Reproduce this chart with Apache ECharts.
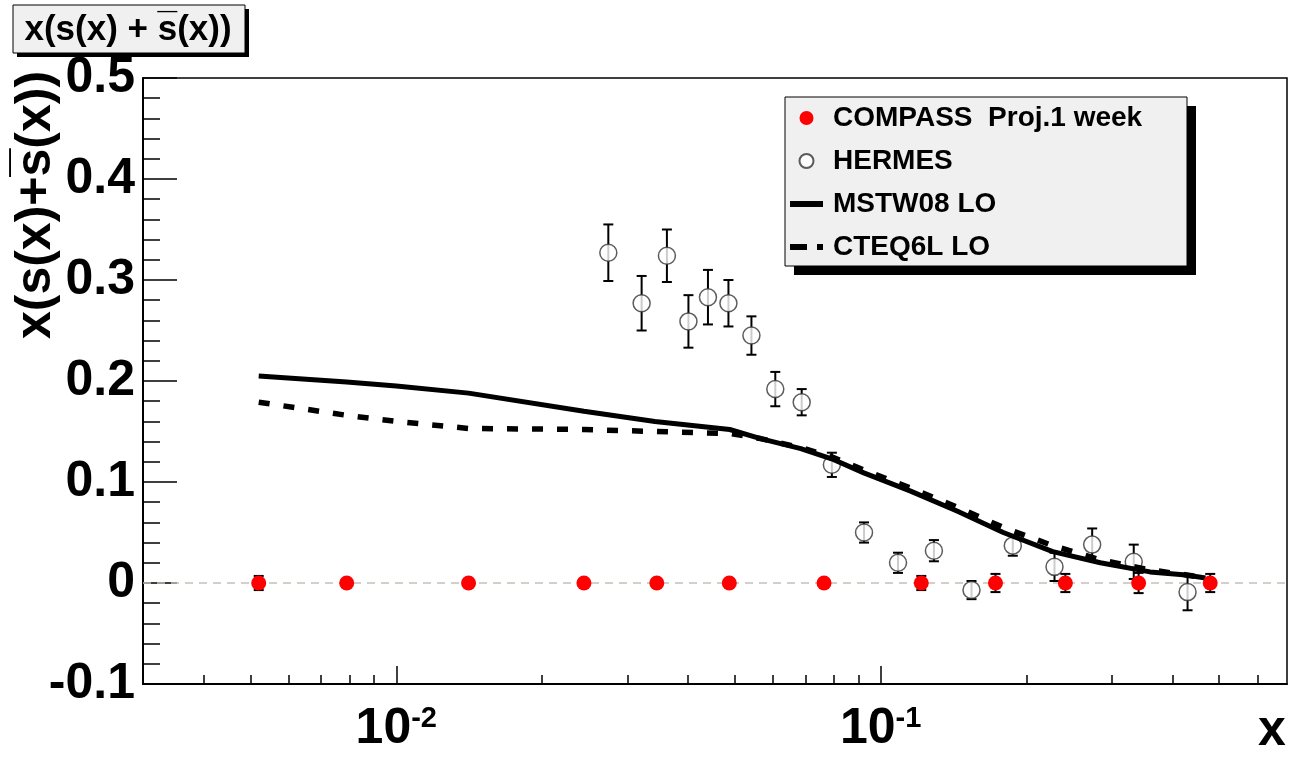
<!DOCTYPE html>
<html>
<head>
<meta charset="utf-8">
<title>x(s(x) + s(x)) strange sea</title>
<script src="https://cdn.jsdelivr.net/npm/echarts@6/dist/echarts.min.js"></script>
<style>
  html, body { margin: 0; padding: 0; background: #fff; }
  #chart { width: 1289px; height: 758px; }
</style>
</head>
<body>
<div id="chart"></div>
<script>
// COMPASS projection, 1 week (red points, all on zero)
const compassX = [0.0052, 0.0079, 0.0141, 0.0244, 0.0345, 0.0487, 0.0764, 0.1213, 0.1726, 0.2406, 0.3408, 0.479];
const compassY = [0, 0, 0, 0, 0, 0, 0, 0, 0, 0, 0, 0];
const compassErr = [0.007, 0.002, 0.002, 0.002, 0.002, 0.002, 0.003, 0.007, 0.009, 0.009, 0.010, 0.009];

// HERMES (open circles)
const hermesX = [0.0274, 0.0321, 0.0362, 0.0401, 0.0440, 0.0485, 0.0541, 0.0606, 0.0687, 0.0793,
                 0.0924, 0.1086, 0.1288, 0.1540, 0.1874, 0.2285, 0.2733, 0.3330, 0.4301];
const hermesY = [0.327, 0.277, 0.324, 0.259, 0.283, 0.277, 0.245, 0.192, 0.179, 0.117,
                 0.050, 0.020, 0.032, -0.007, 0.037, 0.016, 0.038, 0.021, -0.009];
const hermesErr = [0.028, 0.027, 0.026, 0.026, 0.027, 0.023, 0.019, 0.017, 0.013, 0.012,
                   0.010, 0.010, 0.0105, 0.009, 0.010, 0.014, 0.016, 0.017, 0.018];

// PDF curves
const curveX = [0.0052, 0.0079, 0.0100, 0.0141, 0.0244, 0.0342, 0.0488, 0.0565, 0.0684, 0.0792,
                0.0923, 0.1153, 0.1441, 0.1791, 0.2266, 0.2841, 0.3598, 0.4273, 0.4683];
const mstwY = [0.205, 0.199, 0.195, 0.188, 0.170, 0.160, 0.152, 0.143, 0.133, 0.123,
               0.109, 0.091, 0.071, 0.050, 0.031, 0.020, 0.011, 0.008, 0.005];
const cteqY = [0.179, 0.166, 0.160, 0.153, 0.152, 0.150, 0.148, 0.143, 0.134, 0.125,
               0.112, 0.094, 0.075, 0.055, 0.037, 0.023, 0.013, 0.008, 0.005];

// axis ticks
const xMajorTicks = [0.01, 0.1];
const xMinorTicks = [0.004, 0.005, 0.006, 0.007, 0.008, 0.009,
                     0.02, 0.03, 0.04, 0.05, 0.06, 0.07, 0.08, 0.09,
                     0.2, 0.3, 0.4, 0.5, 0.6];

const FONT = "'Liberation Sans', Arial, Helvetica, sans-serif";

const zip = (xs, ys) => xs.map((x, i) => [x, ys[i]]);
const errData = (xs, ys, es) => xs.map((x, i) => [x, ys[i] - es[i], ys[i] + es[i]]);

// vertical error bar with caps
function errorBar(capHalf) {
  return function (params, api) {
    const lo = api.coord([api.value(0), api.value(1)]);
    const hi = api.coord([api.value(0), api.value(2)]);
    const st = { stroke: '#000', lineWidth: 2 };
    return {
      type: 'group',
      children: [
        { type: 'line', shape: { x1: lo[0], y1: lo[1], x2: hi[0], y2: hi[1] }, style: st },
        { type: 'line', shape: { x1: lo[0] - capHalf, y1: lo[1], x2: lo[0] + capHalf, y2: lo[1] }, style: st },
        { type: 'line', shape: { x1: hi[0] - capHalf, y1: hi[1], x2: hi[0] + capHalf, y2: hi[1] }, style: st }
      ]
    };
  };
}

const chart = echarts.init(document.getElementById('chart'));

const option = {
  animation: false,
  backgroundColor: '#fff',
  grid: {
    left: 143, right: 2, top: 78, bottom: 74,
    show: true, borderColor: '#000', borderWidth: 1.5, backgroundColor: 'transparent'
  },
  xAxis: [
    {
      type: 'log', logBase: 10, min: 0.003, max: 0.69,
      axisLine: { onZero: false, lineStyle: { color: '#000', width: 2 } },
      axisTick: { inside: true, length: 18, lineStyle: { color: '#000', width: 1.5 }, customValues: xMajorTicks },
      axisLabel: {
        customValues: xMajorTicks,
        margin: 20,
        formatter: v => '{b|10}{s|' + Math.round(Math.log10(v)) + '}',
        rich: {
          b: { fontSize: 50, fontWeight: 'bold', fontFamily: FONT, color: '#000', lineHeight: 50 },
          s: { fontSize: 29, fontWeight: 'bold', fontFamily: FONT, color: '#000', verticalAlign: 'top', lineHeight: 22 }
        }
      },
      splitLine: { show: false }
    },
    {
      type: 'log', logBase: 10, min: 0.003, max: 0.69, position: 'bottom',
      axisLine: { show: false, onZero: false },
      axisTick: { inside: true, length: 9, lineStyle: { color: '#000', width: 1.5 }, customValues: xMinorTicks },
      axisLabel: { show: false },
      splitLine: { show: false }
    }
  ],
  yAxis: {
    type: 'value', min: -0.1, max: 0.5, interval: 0.1,
    axisLine: { show: true, lineStyle: { color: '#000', width: 2 } },
    axisTick: { inside: true, length: 34, lineStyle: { color: '#000', width: 1.5 } },
    minorTick: { show: true, splitNumber: 5, length: 17, lineStyle: { color: '#000', width: 1.5 } },
    axisLabel: { fontSize: 50, fontWeight: 'bold', fontFamily: FONT, color: '#000', margin: 8 },
    splitLine: { show: false }
  },
  legend: {
    orient: 'vertical', left: 790, top: 104, padding: 0,
    itemWidth: 33, itemHeight: 14, itemGap: 15,
    symbolKeepAspect: true,
    textStyle: { fontSize: 28, fontWeight: 'bold', fontFamily: FONT, color: '#000', padding: [0, 0, 0, 5] },
    data: [
      { name: 'COMPASS  Proj.1 week', icon: 'circle' },
      { name: 'HERMES', icon: 'circle' },
      { name: 'MSTW08 LO', icon: 'path://M0,0L33,0L33,6L0,6Z', itemStyle: { color: '#000', borderWidth: 0 } },
      { name: 'CTEQ6L LO', icon: 'path://M0,0L17,0L17,6L0,6ZM27,0L33,0L33,6L27,6Z', itemStyle: { color: '#000', borderWidth: 0 } }
    ],
    z: 20
  },
  graphic: [
    { type: 'rect', z: 10, shape: { x: 17, y: 9, width: 232, height: 48 }, style: { fill: '#000' } },
    { type: 'rect', z: 11, shape: { x: 13, y: 5, width: 232, height: 48 }, style: { fill: '#f0f0f0', stroke: '#000', lineWidth: 1 } },
    { type: 'text', z: 12, x: 128, y: 30, style: { text: 'x(s(x) + s\u0305(x))', fontSize: 35, fontWeight: 'bold', fontFamily: FONT, fill: '#000', align: 'center', verticalAlign: 'middle' } },
    { type: 'rect', z: 10, shape: { x: 794, y: 106, width: 402, height: 169 }, style: { fill: '#000' } },
    { type: 'rect', z: 11, shape: { x: 785, y: 97, width: 402, height: 169 }, style: { fill: '#f0f0f0', stroke: '#000', lineWidth: 1 } },
    { type: 'text', z: 12, x: 36, y: 205, rotation: Math.PI / 2, style: { text: 'x(s(x)+s\u0305(x))', fontSize: 50, fontWeight: 'bold', fontFamily: FONT, fill: '#000', align: 'center', verticalAlign: 'middle' } },
    { type: 'text', z: 12, x: 1272, y: 731, style: { text: 'x', fontSize: 50, fontWeight: 'bold', fontFamily: FONT, fill: '#000', align: 'center', verticalAlign: 'middle' } }
  ],
  series: [
    {
      name: 'HERMES err', type: 'custom', z: 2,
      renderItem: errorBar(5),
      encode: { x: 0, y: [1, 2] },
      data: errData(hermesX, hermesY, hermesErr)
    },
    {
      name: 'HERMES', type: 'scatter', z: 3,
      symbol: 'circle', symbolSize: 17,
      itemStyle: { color: '#fff', borderColor: '#333', borderWidth: 1.5 },
      data: zip(hermesX, hermesY)
    },
    {
      name: 'CTEQ6L LO', type: 'line', z: 4,
      symbol: 'none',
      lineStyle: { color: '#000', width: 5.5, type: [11, 14] },
      itemStyle: { color: '#000' },
      data: zip(curveX, cteqY)
    },
    {
      name: 'MSTW08 LO', type: 'line', z: 4,
      symbol: 'none',
      lineStyle: { color: '#000', width: 5 },
      itemStyle: { color: '#000' },
      data: zip(curveX, mstwY)
    },
    {
      name: 'COMPASS err', type: 'custom', z: 5,
      renderItem: errorBar(5),
      encode: { x: 0, y: [1, 2] },
      data: errData(compassX, compassY, compassErr)
    },
    {
      name: 'COMPASS  Proj.1 week', type: 'scatter', z: 6,
      symbol: 'circle', symbolSize: 15,
      itemStyle: { color: '#ff0000', opacity: 1 },
      data: zip(compassX, compassY),
      markLine: {
        silent: true, symbol: 'none', label: { show: false }, z: 1,
        lineStyle: { color: '#c8c0b8', width: 1.5, type: [8, 6] },
        data: [{ yAxis: 0 }]
      }
    }
  ]
};

chart.setOption(option);
</script>
</body>
</html>
